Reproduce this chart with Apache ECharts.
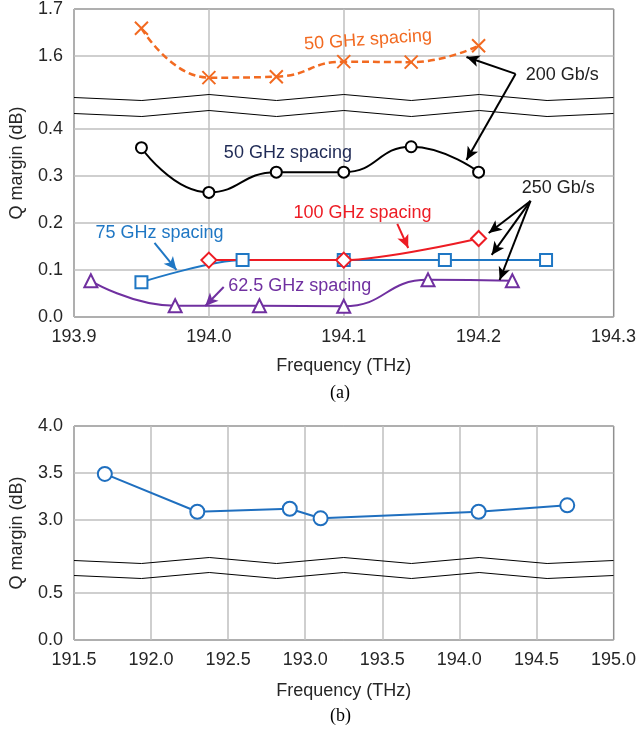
<!DOCTYPE html>
<html><head><meta charset="utf-8">
<script src="https://cdn.jsdelivr.net/npm/echarts@6/dist/echarts.min.js"></script>
<style>html,body{margin:0;padding:0;background:#fff}#c{width:639px;height:732px}</style>
</head><body><div id="c"></div>
<script>
// ---- Panel (a) data ----
const freqA50_200 = [193.95, 194.0, 194.05, 194.1, 194.15, 194.2];
const qA50_200    = [1.659, 1.554, 1.556, 1.588, 1.587, 1.622];
const freqA50_250 = [193.95, 194.0, 194.05, 194.1, 194.15, 194.2];
const qA50_250    = [0.360, 0.265, 0.308, 0.308, 0.362, 0.308];
const freqA100    = [194.0, 194.1, 194.2];
const qA100       = [0.121, 0.121, 0.167];
const freqA75     = [193.95, 194.025, 194.1, 194.175, 194.25];
const qA75        = [0.074, 0.121, 0.121, 0.121, 0.121];
const freqA625    = [193.9125, 193.975, 194.0375, 194.1, 194.1625, 194.225];
const qA625       = [0.077, 0.024, 0.024, 0.023, 0.079, 0.077];
const xRangeA = [193.9, 194.3];
const yRangeA = [0, 1.7];
const yBreakA = [0.434, 1.513];
const yTicksA = [0, 0.1, 0.2, 0.3, 0.4, 1.6, 1.7];

// ---- Panel (b) data ----
const freqB = [191.7, 192.3, 192.9, 193.1, 194.125, 194.7];
const qB    = [3.49, 3.088, 3.12, 3.018, 3.088, 3.156];
const xRangeB = [191.5, 195.0];
const yRangeB = [0, 4.0];
const yBreakB = [0.688, 2.575];
const yTicksB = [0, 0.5, 3.0, 3.5, 4.0];

// ---- annotation texts (data coords) ----
const labelsA = [
  {text: '50 GHz spacing', at: [194.118, 1.634], color: '#F26A21', rotate: 4},
  {text: '200 Gb/s', at: [194.262, 1.560], color: '#222222', rotate: 0},
  {text: '50 GHz spacing', at: [194.0586, 0.349], color: '#1F2A55', rotate: 0},
  {text: '250 Gb/s', at: [194.259, 0.2745], color: '#222222', rotate: 0},
  {text: '100 GHz spacing', at: [194.1139, 0.221], color: '#ED1C24', rotate: 0},
  {text: '75 GHz spacing', at: [193.9634, 0.1787], color: '#1F77C4', rotate: 0},
  {text: '62.5 GHz spacing', at: [194.0674, 0.066], color: '#7030A0', rotate: 0}
];
const arrowsA = [
  {from: [194.2274, 1.562], to: [194.191, 1.598], color: '#000'},
  {from: [194.2274, 1.562], to: [194.191, 0.334], color: '#000'},
  {from: [194.2385, 0.2468], to: [194.2075, 0.1787], color: '#000'},
  {from: [194.2385, 0.2468], to: [194.2097, 0.132], color: '#000'},
  {from: [194.2385, 0.2468], to: [194.2156, 0.0787], color: '#000'},
  {from: [194.1397, 0.198], to: [194.1478, 0.1468], color: '#ED1C24'},
  {from: [193.9597, 0.1574], to: [193.976, 0.100], color: '#1F77C4'},
  {from: [194.011, 0.0638], to: [193.9973, 0.0234], color: '#7030A0'}
];

const zip = (xs, ys) => xs.map((x, i) => [x, ys[i]]);
const FONT = 'Liberation Sans';
const fmt1 = (v, i, extra) => (extra && extra.break) ? '' : Number(v).toFixed(1);

const breakArea = {
  show: true, expandOnClick: false,
  zigzagAmplitude: 3, zigzagMinSpan: 67, zigzagMaxSpan: 68,
  itemStyle: {color: 'rgba(255,255,255,0)', borderColor: '#000', borderWidth: 1, borderType: 'solid', opacity: 1}
};
const axisLabelStyle = {color: '#262626', fontSize: 18, fontFamily: FONT};
const splitLine = {show: true, lineStyle: {color: '#bfbfbf', width: 1.5}};

const option = {
  animation: false,
  backgroundColor: '#fff',
  grid: [
    {left: 72, right: 24, top: 9, height: 308, show: true, borderColor: '#000', borderWidth: 1, backgroundColor: 'transparent'},
    {left: 72, right: 24, top: 426, height: 214, show: true, borderColor: '#000', borderWidth: 1, backgroundColor: 'transparent'}
  ],
  xAxis: [
    {gridIndex: 0, type: 'value', min: xRangeA[0], max: xRangeA[1], interval: 0.1,
     axisLine: {show: false}, axisTick: {show: false}, splitLine,
     axisLabel: Object.assign({formatter: fmt1, margin: 11}, axisLabelStyle),
     name: 'Frequency (THz)', nameLocation: 'middle', nameGap: 40,
     nameTextStyle: {color: '#262626', fontSize: 18, fontFamily: FONT}},
    {gridIndex: 1, type: 'value', min: xRangeB[0], max: xRangeB[1], interval: 0.5,
     axisLine: {show: false}, axisTick: {show: false}, splitLine,
     axisLabel: Object.assign({formatter: fmt1, margin: 11}, axisLabelStyle),
     name: 'Frequency (THz)', nameLocation: 'middle', nameGap: 42,
     nameTextStyle: {color: '#262626', fontSize: 18, fontFamily: FONT}}
  ],
  yAxis: [
    {gridIndex: 0, type: 'value', min: yRangeA[0], max: yRangeA[1], interval: 0.1,
     breaks: [{start: yBreakA[0], end: yBreakA[1], gap: 0.034}], breakArea,
     axisLine: {show: false}, axisTick: {show: false, customValues: yTicksA}, splitLine,
     axisLabel: Object.assign({formatter: fmt1, margin: 11, customValues: yTicksA}, axisLabelStyle),
     name: 'Q margin (dB)', nameLocation: 'middle', nameGap: 48,
     nameTextStyle: {color: '#262626', fontSize: 18, fontFamily: FONT}},
    {gridIndex: 1, type: 'value', min: yRangeB[0], max: yRangeB[1], interval: 0.5,
     breaks: [{start: yBreakB[0], end: yBreakB[1], gap: 0.1636}], breakArea,
     axisLine: {show: false}, axisTick: {show: false, customValues: yTicksB}, splitLine,
     axisLabel: Object.assign({formatter: fmt1, margin: 11, customValues: yTicksB}, axisLabelStyle),
     name: 'Q margin (dB)', nameLocation: 'middle', nameGap: 48,
     nameTextStyle: {color: '#262626', fontSize: 18, fontFamily: FONT}}
  ],
  series: [
    {type: 'line', xAxisIndex: 0, yAxisIndex: 0, data: zip(freqA50_200, qA50_200), smooth: 0.5,
     symbol: 'path://M0,0 L10,10 M10,0 L0,10', symbolSize: 13,
     itemStyle: {color: '#F26A21', borderColor: '#F26A21', borderWidth: 2},
     lineStyle: {color: '#F26A21', width: 2.5, type: [7, 4]}},
    {type: 'line', xAxisIndex: 0, yAxisIndex: 0, data: zip(freqA50_250, qA50_250), smooth: 0.5,
     symbol: 'emptyCircle', symbolSize: 11,
     itemStyle: {color: '#000', borderColor: '#000', borderWidth: 1.5},
     lineStyle: {color: '#000', width: 2}},
    {type: 'line', xAxisIndex: 0, yAxisIndex: 0, data: zip(freqA75, qA75), smooth: 0.3,
     symbol: 'emptyRect', symbolSize: 12,
     itemStyle: {color: '#1F77C4', borderColor: '#1F77C4', borderWidth: 1.5},
     lineStyle: {color: '#1F77C4', width: 2}},
    {type: 'line', xAxisIndex: 0, yAxisIndex: 0, data: zip(freqA100, qA100), smooth: 0.3,
     symbol: 'emptyDiamond', symbolSize: 15,
     itemStyle: {color: '#ED1C24', borderColor: '#ED1C24', borderWidth: 1.5},
     lineStyle: {color: '#ED1C24', width: 2}},
    {type: 'line', xAxisIndex: 0, yAxisIndex: 0, data: zip(freqA625, qA625), smooth: 0.5,
     symbol: 'emptyTriangle', symbolSize: 13,
     itemStyle: {color: '#7030A0', borderColor: '#7030A0', borderWidth: 1.5},
     lineStyle: {color: '#7030A0', width: 2}},
    {type: 'line', xAxisIndex: 1, yAxisIndex: 1, data: zip(freqB, qB), smooth: false,
     symbol: 'emptyCircle', symbolSize: 14,
     itemStyle: {color: '#1F6FBF', borderColor: '#1F6FBF', borderWidth: 2},
     lineStyle: {color: '#1F6FBF', width: 2}},
    {type: 'line', xAxisIndex: 0, yAxisIndex: 0, data: [], silent: true, z: 10,
     markLine: {silent: true, animation: false, symbol: ['none', 'arrow'], symbolSize: [9, 13],
       label: {show: false},
       data: arrowsA.map(a => [
         {coord: a.from, lineStyle: {color: a.color, width: 2, type: 'solid'}, itemStyle: {color: a.color}},
         {coord: a.to}
       ])},
     markPoint: {silent: true, animation: false, symbol: 'circle', symbolSize: 0,
       data: labelsA.map(l => ({coord: l.at, value: l.text,
         label: {show: true, position: 'inside', formatter: l.text, color: l.color, fontSize: 18, fontFamily: FONT, rotate: l.rotate}}))}}
  ],
  graphic: [
    {type: 'text', left: 330, top: 384, style: {text: '(a)', fill: '#000', font: '18px "Liberation Serif"'}},
    {type: 'text', left: 330, top: 707, style: {text: '(b)', fill: '#000', font: '18px "Liberation Serif"'}}
  ]
};
const chart = echarts.init(document.getElementById('c'), null, {renderer: 'canvas'});
chart.setOption(option);
</script></body></html>
